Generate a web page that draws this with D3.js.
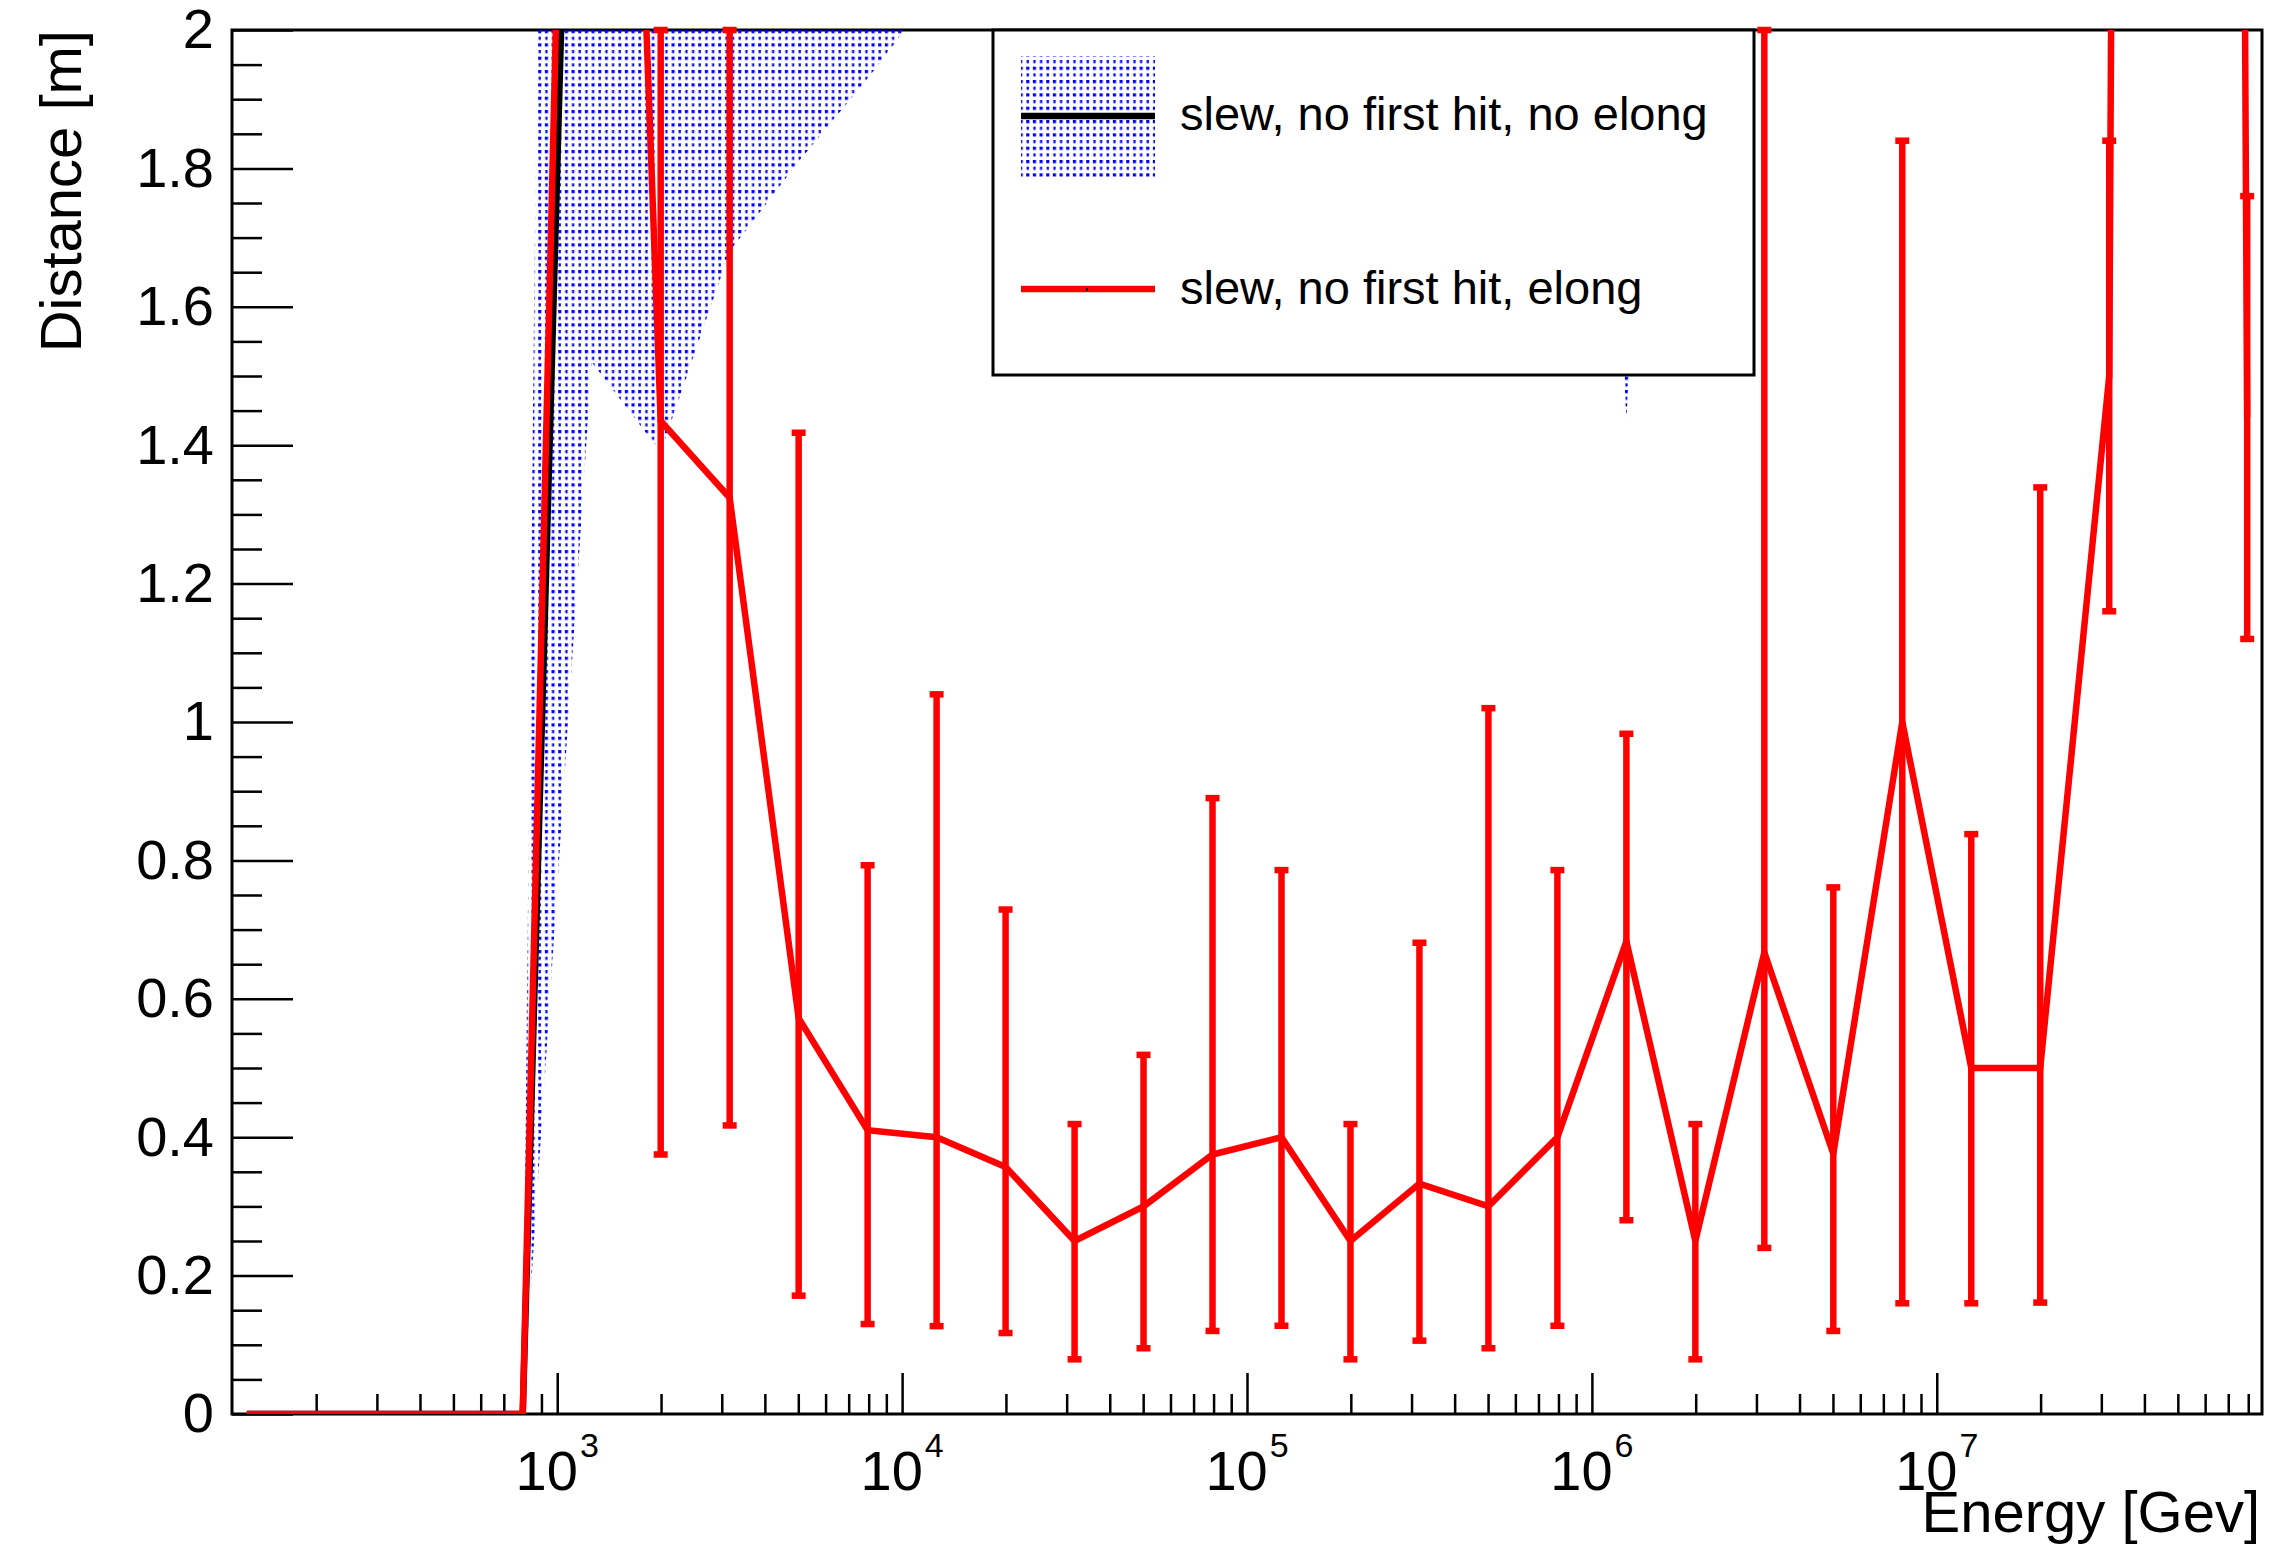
<!DOCTYPE html>
<html>
<head>
<meta charset="utf-8">
<script src="https://cdn.jsdelivr.net/npm/d3@7"></script>
<style>
  body { margin: 0; background: #fff; }
</style>
</head>
<body>
<div id="chart-container"></div>
<script>
// bin centres in log10(E / GeV)
const binLogE = [2.1, 2.3, 2.5, 2.7, 2.9, 3.1, 3.3, 3.5, 3.7, 3.9,
                 4.1, 4.3, 4.5, 4.7, 4.9, 5.1, 5.3, 5.5, 5.7, 5.9,
                 6.1, 6.3, 6.5, 6.7, 6.9, 7.1, 7.3, 7.5, 7.7, 7.9];

// "slew, no first hit, elong" (red, with error bars)
const elongVals = [0, 0, 0, 0, 0, 4.17, 1.435, 1.324, 0.572, 0.41,
                   0.40, 0.357, 0.25, 0.30, 0.375, 0.40, 0.25, 0.333, 0.30, 0.40,
                   0.683, 0.25, 0.667, 0.376, 1.0, 0.5, 0.5, 1.5, 20, 1.44];
const elongLow  = [0, 0, 0, 0, 0, 2.6, 0.375, 0.417, 0.171, 0.13,
                   0.127, 0.117, 0.079, 0.095, 0.12, 0.1275, 0.079, 0.106, 0.095, 0.1275,
                   0.28, 0.079, 0.24, 0.12, 0.16, 0.16, 0.161, 1.16, 12, 1.12];
const elongHigh = [0, 0, 0, 0, 0, 5.7, 2.5, 2.3, 1.418, 0.793,
                   1.04, 0.729, 0.419, 0.519, 0.89, 0.786, 0.419, 0.681, 1.02, 0.786,
                   0.983, 0.419, 2.6, 0.761, 1.84, 0.838, 1.339, 1.84, 28, 1.76];

// "slew, no first hit, no elong" (black line + blue error band)
const noElongVals = [0, 0, 0, 0, 0, 3.6, 4.0, 4.2, 4.4, 4.5,
                     4.6, 4.5, 4.6, 4.8, 5.0, 4.9, 5.1, 5.0, 5.3, 6.0,
                     5.0, 6.2, 5.5, 5.8, 6.0, 6.5, 6.2, 6.8, 7.0, 7.5];
const noElongLow  = [0, 0, 0, 0, 0, 1.52, 1.39, 1.68, 1.81, 1.93,
                     2.06, 2.2, 2.3, 2.35, 2.4, 2.45, 2.5, 2.5, 2.5, 3.0,
                     1.44, 3.0, 3.2, 3.3, 3.4, 3.5, 3.6, 3.8, 4.0, 4.2];
const noElongHigh = [0, 0, 0, 0, 0, 9.75, 8.6, 8.0, 8.2, 8.4,
                     8.5, 8.5, 8.6, 8.8, 9.0, 9.0, 9.2, 9.0, 9.4, 10.0,
                     9.0, 10.0, 9.5, 9.8, 10.0, 10.5, 10.2, 10.8, 11.0, 11.5];

const xMajorExps = [3, 4, 5, 6, 7];
const yMajorTicks = [0, 0.2, 0.4, 0.6, 0.8, 1, 1.2, 1.4, 1.6, 1.8, 2];

const legendLabels = ["slew, no first hit, no elong", "slew, no first hit, elong"];

// ---- layout
const W = 2270, H = 1545;
const margin = { top: 30, right: 8, bottom: 131, left: 232 };
const width = W - margin.left - margin.right;
const height = H - margin.top - margin.bottom;
const font = "'Liberation Sans', Arial, Helvetica, sans-serif";

const red = d3.map(binLogE, (l, i) => ({ e: Math.pow(10, l), v: elongVals[i], lo: elongLow[i], hi: elongHigh[i] }));
const blk = d3.map(binLogE, (l, i) => ({ e: Math.pow(10, l), v: noElongVals[i], lo: noElongLow[i], hi: noElongHigh[i] }));

const svg = d3.select("#chart-container")
    .append("svg")
    .attr("width", W)
    .attr("height", H)
    .style("font-family", font);

const x = d3.scaleLog()
    .domain([Math.pow(10, 2.057), Math.pow(10, 7.943)])
    .range([0, width]);

const y = d3.scaleLinear()
    .domain([0, 2])
    .range([height, 0]);

const defs = svg.append("defs");
defs.append("clipPath").attr("id", "plotClip")
    .append("rect").attr("width", width).attr("height", height);

// dotted blue fill (ROOT style hatch)
const pw = 6.667;
const spikeX = x(Math.pow(10, 6.1)) - 1.5;
const pat = defs.append("pattern")
    .attr("id", "dots")
    .attr("patternUnits", "userSpaceOnUse")
    .attr("x", spikeX % pw)
    .attr("y", 0)
    .attr("width", pw)
    .attr("height", pw * 2);
pat.append("rect").attr("x", 0).attr("y", 0).attr("width", 3.2).attr("height", 3.2).attr("fill", "#0000ff");
pat.append("rect").attr("x", 0.5).attr("y", pw).attr("width", 2.2).attr("height", 3.2).attr("fill", "#0000ff");

const g = svg.append("g")
    .attr("transform", `translate(${margin.left},${margin.top})`);

// ---- axes
const yMinor = y.ticks(40).filter(t => !yMajorTicks.some(m => Math.abs(m - t) < 1e-9));
g.append("g")
    .call(d3.axisLeft(y).tickValues(yMinor).tickSize(-30).tickFormat(""))
    .call(a => a.select(".domain").remove())
    .call(a => a.selectAll("line").attr("stroke", "#000").attr("stroke-width", 2.5));

g.append("g")
    .call(d3.axisLeft(y).tickValues(yMajorTicks).tickSize(-61).tickPadding(18)
        .tickFormat(d => String(+d.toFixed(1))))
    .call(a => a.select(".domain").remove())
    .call(a => a.selectAll("line").attr("stroke", "#000").attr("stroke-width", 2.5))
    .call(a => a.selectAll("text").attr("font-size", 56).attr("font-family", font).attr("fill", "#000"));

const xMajor = xMajorExps.map(p => Math.pow(10, p));
const xMinor = x.ticks().filter(t => {
    const m = Math.round(t / Math.pow(10, Math.floor(Math.log10(t) + 1e-9)));
    return m !== 1;
});

g.append("g")
    .attr("transform", `translate(0,${height})`)
    .call(d3.axisBottom(x).tickValues(xMinor).tickSize(-20).tickFormat(""))
    .call(a => a.select(".domain").remove())
    .call(a => a.selectAll("line").attr("stroke", "#000").attr("stroke-width", 2.5));

g.append("g")
    .attr("transform", `translate(0,${height})`)
    .call(d3.axisBottom(x).tickValues(xMajor).tickSize(-41).tickFormat(""))
    .call(a => a.select(".domain").remove())
    .call(a => a.selectAll("line").attr("stroke", "#000").attr("stroke-width", 2.5));

// decade labels 10^n
const xl = g.append("g").selectAll("text")
    .data(xMajorExps)
    .enter()
    .append("text")
    .attr("x", d => x(Math.pow(10, d)))
    .attr("y", height + 76)
    .attr("text-anchor", "middle")
    .attr("font-size", 56)
    .attr("fill", "#000");
xl.append("tspan").text("10");
xl.append("tspan").attr("font-size", 34).attr("dy", -33).attr("dx", 2).text(d => d);

// frame
g.append("rect")
    .attr("width", width)
    .attr("height", height)
    .attr("fill", "none")
    .attr("stroke", "#000")
    .attr("stroke-width", 3);

// ---- data
const plot = g.append("g").attr("clip-path", "url(#plotClip)");

plot.append("path")
    .datum(blk)
    .attr("d", d3.area().x(d => x(d.e)).y0(d => y(d.lo)).y1(d => y(d.hi)))
    .attr("fill", "url(#dots)")
    .attr("stroke", "none");

plot.append("path")
    .datum(blk)
    .attr("d", d3.line().x(d => x(d.e)).y(d => y(d.v)))
    .attr("fill", "none")
    .attr("stroke", "#000")
    .attr("stroke-width", 6.5);

plot.append("path")
    .datum(red)
    .attr("d", d3.line().x(d => x(d.e)).y(d => y(d.v)))
    .attr("fill", "none")
    .attr("stroke", "#ff0000")
    .attr("stroke-width", 6.5)
    .attr("stroke-linejoin", "miter");

// error bars, clamped to the frame
const clampY = v => Math.max(0, Math.min(2, v));
const bars = red.filter(d => d.hi > d.lo && d.lo < 2);
const eb = g.append("g").attr("stroke", "#ff0000").attr("stroke-width", 6.5);
eb.selectAll("line.bar")
    .data(bars)
    .enter()
    .append("line")
    .attr("class", "bar")
    .attr("x1", d => x(d.e))
    .attr("x2", d => x(d.e))
    .attr("y1", d => y(clampY(d.lo)))
    .attr("y2", d => y(clampY(d.hi)));
eb.selectAll("line.capLo")
    .data(bars)
    .enter()
    .append("line")
    .attr("class", "capLo")
    .attr("x1", d => x(d.e) - 7)
    .attr("x2", d => x(d.e) + 7)
    .attr("y1", d => y(clampY(d.lo)))
    .attr("y2", d => y(clampY(d.lo)));
eb.selectAll("line.capHi")
    .data(bars)
    .enter()
    .append("line")
    .attr("class", "capHi")
    .attr("x1", d => x(d.e) - 7)
    .attr("x2", d => x(d.e) + 7)
    .attr("y1", d => y(clampY(d.hi)))
    .attr("y2", d => y(clampY(d.hi)));

// ---- axis titles
svg.append("text")
    .attr("x", 2260)
    .attr("y", 1532)
    .attr("text-anchor", "end")
    .attr("font-size", 58)
    .attr("fill", "#000")
    .text("Energy [Gev]");

svg.append("text")
    .attr("transform", "translate(81,30) rotate(-90)")
    .attr("text-anchor", "end")
    .attr("font-size", 58)
    .attr("fill", "#000")
    .text("Distance [m]");

// ---- legend
const leg = svg.append("g");
leg.append("rect")
    .attr("x", 993)
    .attr("y", 30)
    .attr("width", 761)
    .attr("height", 345)
    .attr("fill", "#fff")
    .attr("stroke", "#000")
    .attr("stroke-width", 3);

leg.append("rect")
    .attr("x", 1021)
    .attr("y", 56)
    .attr("width", 134)
    .attr("height", 121)
    .attr("fill", "url(#dots)");
leg.append("line")
    .attr("x1", 1021).attr("x2", 1155)
    .attr("y1", 116).attr("y2", 116)
    .attr("stroke", "#000").attr("stroke-width", 6.5);

leg.append("line")
    .attr("x1", 1021).attr("x2", 1155)
    .attr("y1", 289).attr("y2", 289)
    .attr("stroke", "#ff0000").attr("stroke-width", 6.5);
leg.append("rect")
    .attr("x", 1086).attr("y", 288)
    .attr("width", 2).attr("height", 3)
    .attr("fill", "#000");

leg.selectAll("text.lbl")
    .data(legendLabels)
    .enter()
    .append("text")
    .attr("class", "lbl")
    .attr("x", 1180)
    .attr("y", (d, i) => i === 0 ? 130 : 304)
    .attr("font-size", 47)
    .attr("fill", "#000")
    .text(d => d);
</script>
</body>
</html>
